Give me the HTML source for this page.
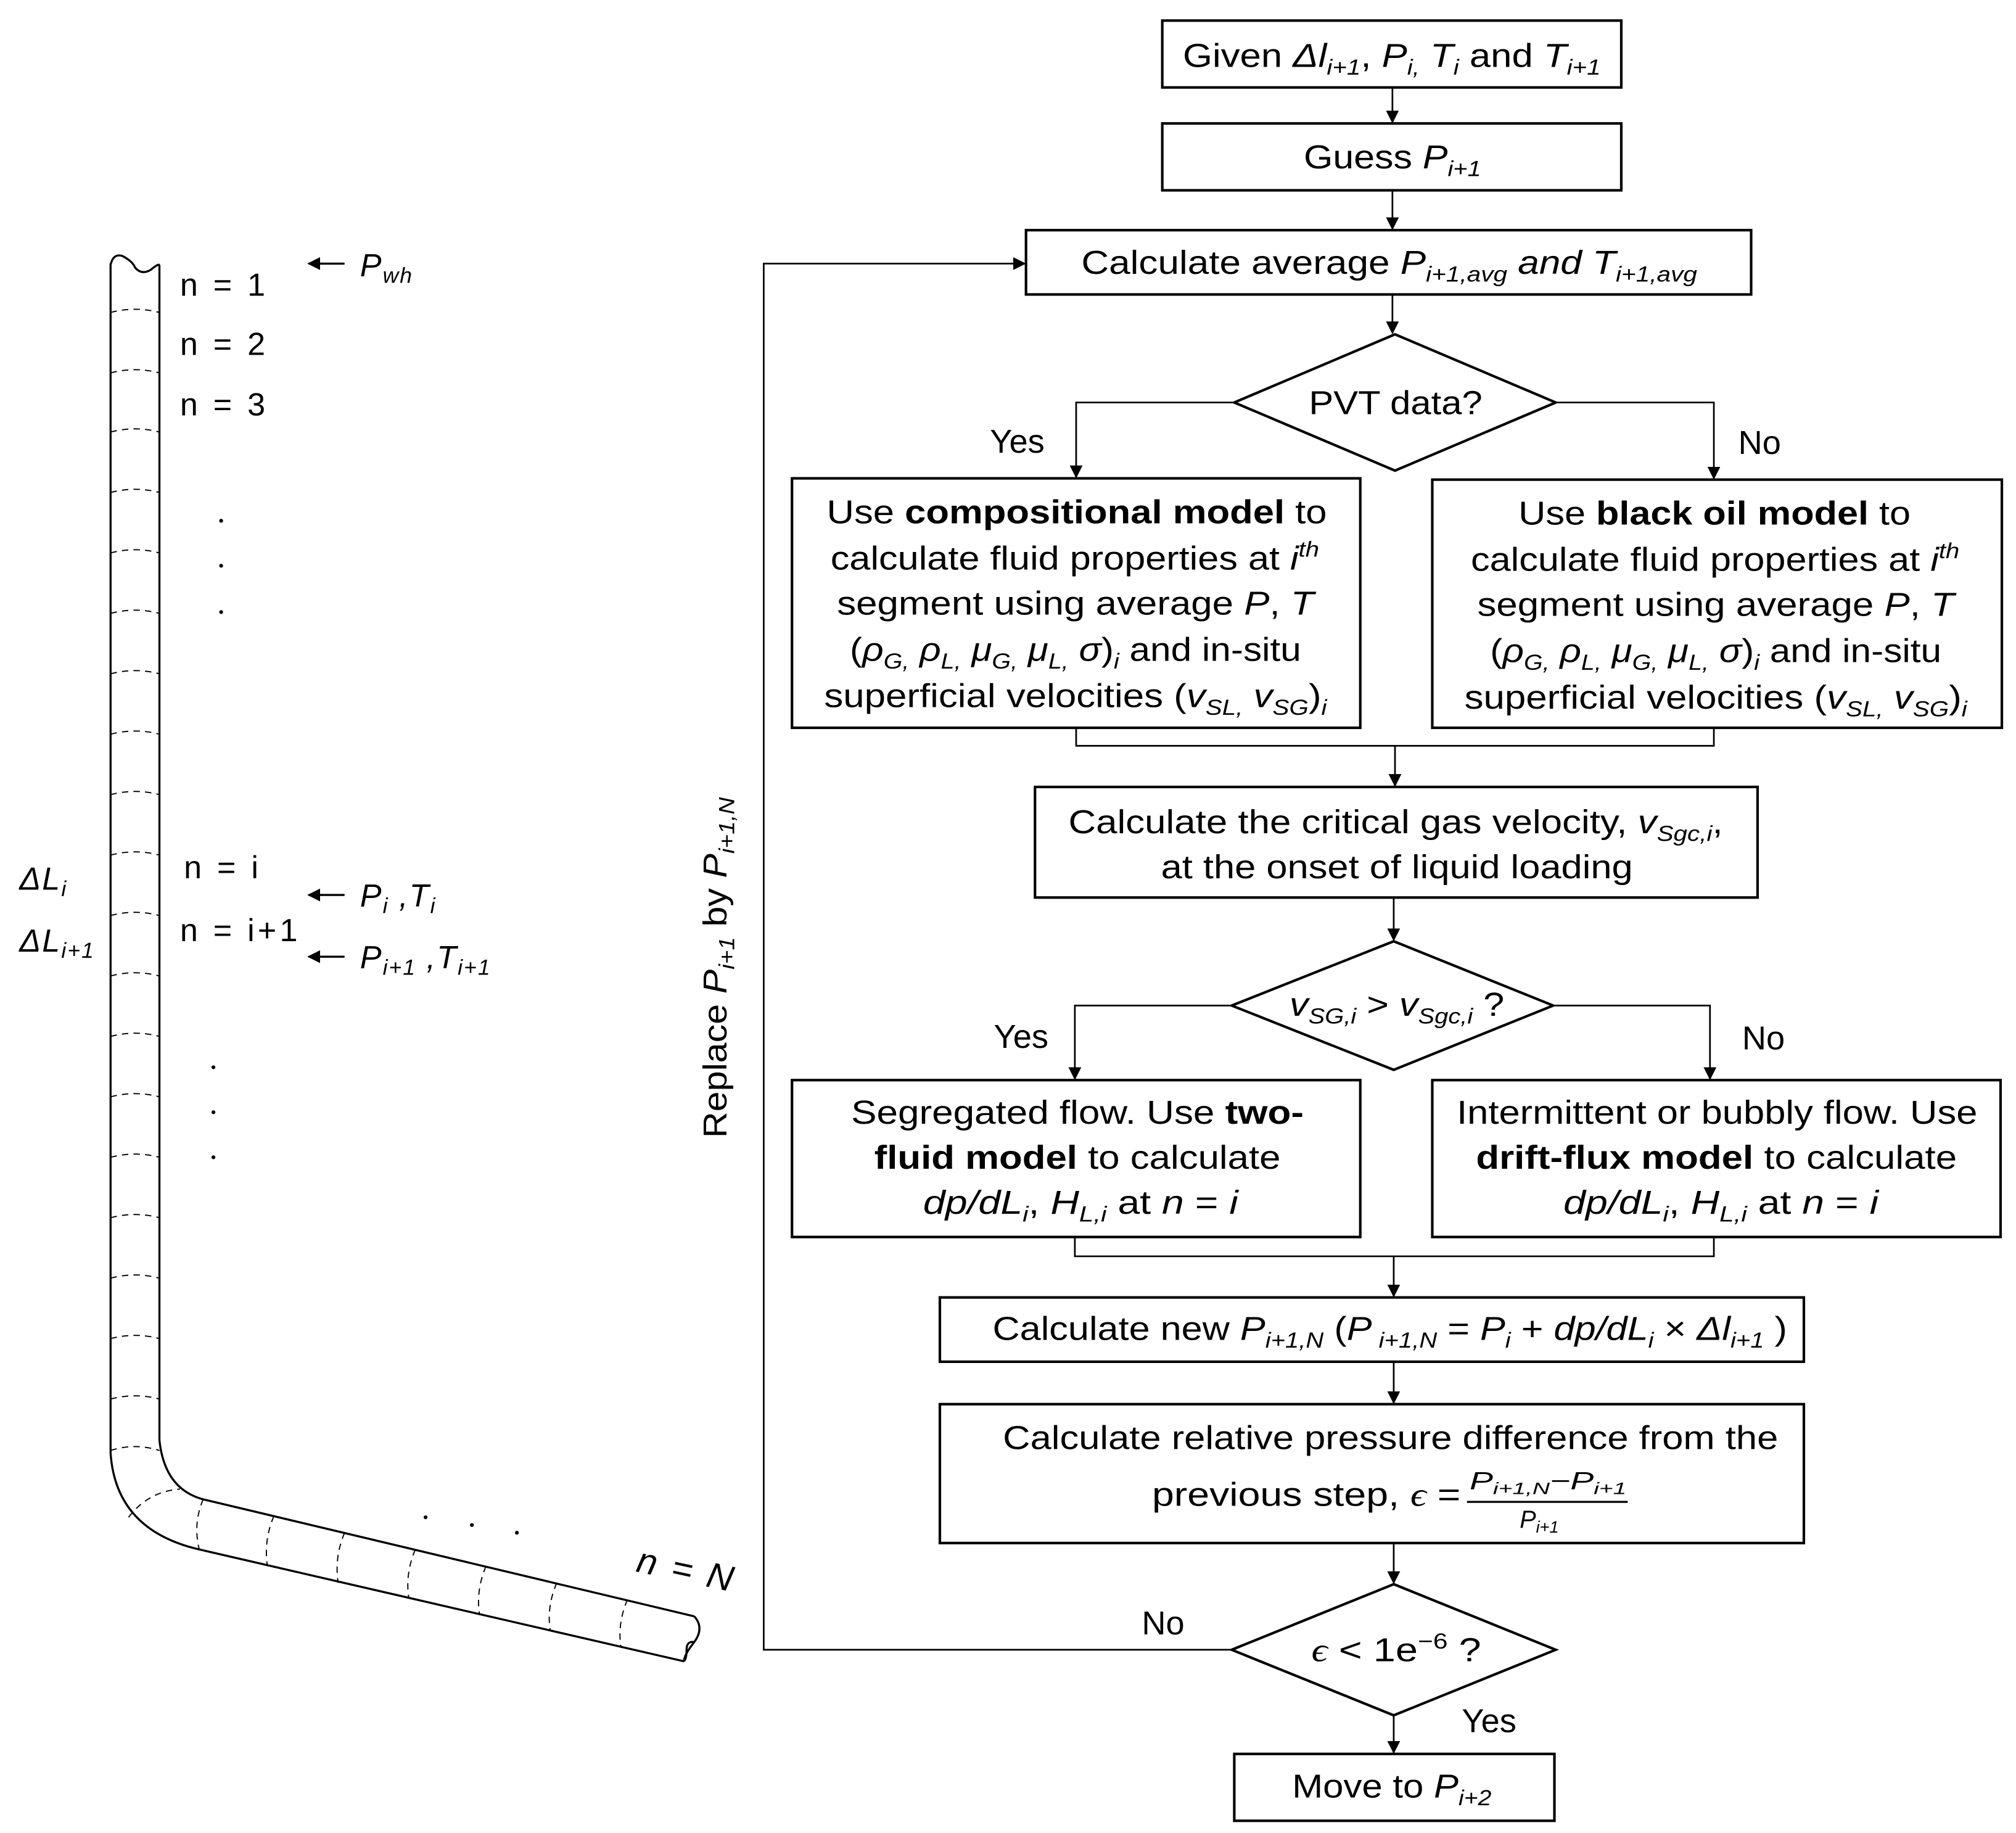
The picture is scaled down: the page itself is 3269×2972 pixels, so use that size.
<!DOCTYPE html>
<html><head><meta charset="utf-8"><style>
html,body{margin:0;padding:0;background:#fff}
svg{display:block}
text{font-family:"Liberation Sans",Arial,sans-serif;fill:#000}
.t{font-size:26px}
.s{font-size:17px}
</style></head><body>
<svg width="3269" height="2972" viewBox="0 0 1568 1425.5" preserveAspectRatio="none" xmlns="http://www.w3.org/2000/svg">
<defs><marker id="a" markerWidth="10" markerHeight="10" refX="9" refY="5" orient="auto" markerUnits="userSpaceOnUse"><path d="M0,0 L10,5 L0,10 z" fill="#000"/></marker></defs>
<g fill="none" stroke="#000" stroke-width="2">
<rect x="904" y="16" width="357" height="52"/>
<rect x="904" y="96" width="357" height="52"/>
<rect x="798" y="179" width="564" height="50"/>
<polygon points="1085,260 1210,313 1085,366 960,313"/>
<rect x="616" y="372" width="442" height="194"/>
<rect x="1114" y="373" width="443" height="193"/>
<rect x="805" y="612" width="562" height="86"/>
<polygon points="1084,732 1208,782 1084,832 958,782"/>
<rect x="616" y="840" width="442" height="122"/>
<rect x="1114" y="840" width="442" height="122"/>
<rect x="731" y="1009" width="672" height="50"/>
<rect x="731" y="1092" width="672" height="108"/>
<polygon points="1084,1232 1210,1283 1084,1334 958,1283"/>
<rect x="960" y="1364" width="249" height="52"/>
</g>
<g fill="none" stroke="#000" stroke-width="1.3">
<path d="M1083,68 V95" marker-end="url(#a)"/>
<path d="M1083,148 V178" marker-end="url(#a)"/>
<path d="M1083,229 V259" marker-end="url(#a)"/>
<path d="M960,313 H837 V371" marker-end="url(#a)"/>
<path d="M1210,313 H1333 V372" marker-end="url(#a)"/>
<path d="M837,566 V580 H1333 V566"/>
<path d="M1085,580 V611" marker-end="url(#a)"/>
<path d="M1084,698 V731" marker-end="url(#a)"/>
<path d="M958,782 H836 V839" marker-end="url(#a)"/>
<path d="M1208,782 H1330 V839" marker-end="url(#a)"/>
<path d="M836,962 V977 H1333 V962"/>
<path d="M1084,977 V1008" marker-end="url(#a)"/>
<path d="M1084,1059 V1091" marker-end="url(#a)"/>
<path d="M1084,1200 V1231" marker-end="url(#a)"/>
<path d="M958,1283 H594 V205 H797" marker-end="url(#a)"/>
<path d="M1084,1334 V1363" marker-end="url(#a)"/>
</g>
<text class="t" x="920" y="52" textLength="325" lengthAdjust="spacingAndGlyphs">Given <tspan font-style="italic">Δl</tspan><tspan class="s" font-style="italic" dy="6">i+1</tspan><tspan dy="-6">, </tspan><tspan font-style="italic">P</tspan><tspan class="s" font-style="italic" dy="6">i,</tspan><tspan font-style="italic" dy="-6"> T</tspan><tspan class="s" font-style="italic" dy="6">i</tspan><tspan dy="-6"> and </tspan><tspan font-style="italic">T</tspan><tspan class="s" font-style="italic" dy="6">i+1</tspan></text>
<text class="t" x="1014" y="131" textLength="138" lengthAdjust="spacingAndGlyphs">Guess <tspan font-style="italic">P</tspan><tspan class="s" font-style="italic" dy="6">i+1</tspan></text>
<text class="t" x="841" y="213" textLength="479" lengthAdjust="spacingAndGlyphs">Calculate average <tspan font-style="italic">P</tspan><tspan class="s" font-style="italic" dy="6">i+1,avg</tspan><tspan font-style="italic" dy="-6"> and T</tspan><tspan class="s" font-style="italic" dy="6">i+1,avg</tspan></text>
<text class="t" x="1018" y="322" textLength="135" lengthAdjust="spacingAndGlyphs">PVT data?</text>
<text class="t" x="770" y="352">Yes</text>
<text class="t" x="1352" y="353">No</text>
<text class="t" x="643" y="407" textLength="389" lengthAdjust="spacingAndGlyphs">Use <tspan font-weight="bold">compositional model</tspan> to</text>
<text class="t" x="646" y="443" textLength="380" lengthAdjust="spacingAndGlyphs">calculate fluid properties at <tspan font-style="italic">i</tspan><tspan class="s" font-style="italic" dy="-10">th</tspan></text>
<text class="t" x="651" y="478" textLength="371" lengthAdjust="spacingAndGlyphs">segment using average <tspan font-style="italic">P</tspan>, <tspan font-style="italic">T</tspan></text>
<text class="t" x="661" y="514" textLength="351" lengthAdjust="spacingAndGlyphs">(<tspan font-style="italic">ρ</tspan><tspan class="s" font-style="italic" dy="6">G,</tspan><tspan font-style="italic" dy="-6"> ρ</tspan><tspan class="s" font-style="italic" dy="6">L,</tspan><tspan font-style="italic" dy="-6"> μ</tspan><tspan class="s" font-style="italic" dy="6">G,</tspan><tspan font-style="italic" dy="-6"> μ</tspan><tspan class="s" font-style="italic" dy="6">L,</tspan><tspan font-style="italic" dy="-6"> σ</tspan>)<tspan class="s" font-style="italic" dy="6">i</tspan><tspan dy="-6"> and in-situ</tspan></text>
<text class="t" x="641" y="550" textLength="391" lengthAdjust="spacingAndGlyphs">superficial velocities (<tspan font-style="italic">v</tspan><tspan class="s" font-style="italic" dy="6">SL,</tspan><tspan font-style="italic" dy="-6"> v</tspan><tspan class="s" font-style="italic" dy="6">SG</tspan><tspan dy="-6">)</tspan><tspan class="s" font-style="italic" dy="6">i</tspan></text>
<text class="t" x="1181" y="408" textLength="305" lengthAdjust="spacingAndGlyphs">Use <tspan font-weight="bold">black oil model</tspan> to</text>
<text class="t" x="1144" y="444" textLength="380" lengthAdjust="spacingAndGlyphs">calculate fluid properties at <tspan font-style="italic">i</tspan><tspan class="s" font-style="italic" dy="-10">th</tspan></text>
<text class="t" x="1149" y="479" textLength="371" lengthAdjust="spacingAndGlyphs">segment using average <tspan font-style="italic">P</tspan>, <tspan font-style="italic">T</tspan></text>
<text class="t" x="1159" y="515" textLength="351" lengthAdjust="spacingAndGlyphs">(<tspan font-style="italic">ρ</tspan><tspan class="s" font-style="italic" dy="6">G,</tspan><tspan font-style="italic" dy="-6"> ρ</tspan><tspan class="s" font-style="italic" dy="6">L,</tspan><tspan font-style="italic" dy="-6"> μ</tspan><tspan class="s" font-style="italic" dy="6">G,</tspan><tspan font-style="italic" dy="-6"> μ</tspan><tspan class="s" font-style="italic" dy="6">L,</tspan><tspan font-style="italic" dy="-6"> σ</tspan>)<tspan class="s" font-style="italic" dy="6">i</tspan><tspan dy="-6"> and in-situ</tspan></text>
<text class="t" x="1139" y="551" textLength="391" lengthAdjust="spacingAndGlyphs">superficial velocities (<tspan font-style="italic">v</tspan><tspan class="s" font-style="italic" dy="6">SL,</tspan><tspan font-style="italic" dy="-6"> v</tspan><tspan class="s" font-style="italic" dy="6">SG</tspan><tspan dy="-6">)</tspan><tspan class="s" font-style="italic" dy="6">i</tspan></text>
<text class="t" x="831" y="648" textLength="509" lengthAdjust="spacingAndGlyphs">Calculate the critical gas velocity,  <tspan font-style="italic">v</tspan><tspan class="s" font-style="italic" dy="6">Sgc,i</tspan><tspan dy="-6">,</tspan></text>
<text class="t" x="903" y="683" textLength="367" lengthAdjust="spacingAndGlyphs">at the onset of liquid loading</text>
<text class="t" x="1003" y="790" textLength="167" lengthAdjust="spacingAndGlyphs"><tspan font-style="italic">v</tspan><tspan class="s" font-style="italic" dy="6">SG,i</tspan><tspan dy="-6"> &gt; </tspan><tspan font-style="italic">v</tspan><tspan class="s" font-style="italic" dy="6">Sgc,i</tspan><tspan dy="-6"> ?</tspan></text>
<text class="t" x="773" y="815">Yes</text>
<text class="t" x="1355" y="816">No</text>
<text class="t" x="662" y="874" textLength="352" lengthAdjust="spacingAndGlyphs">Segregated flow. Use <tspan font-weight="bold">two-</tspan></text>
<text class="t" x="680" y="909" textLength="316" lengthAdjust="spacingAndGlyphs"><tspan font-weight="bold">fluid model</tspan> to calculate</text>
<text class="t" x="718" y="944" textLength="245" lengthAdjust="spacingAndGlyphs"><tspan font-style="italic">dp/dL</tspan><tspan class="s" font-style="italic" dy="6">i</tspan><tspan dy="-6">, </tspan><tspan font-style="italic">H</tspan><tspan class="s" font-style="italic" dy="6">L,i</tspan><tspan dy="-6"> at </tspan><tspan font-style="italic">n</tspan> = <tspan font-style="italic">i</tspan></text>
<text class="t" x="1133" y="874" textLength="405" lengthAdjust="spacingAndGlyphs">Intermittent or bubbly flow. Use</text>
<text class="t" x="1148" y="909" textLength="374" lengthAdjust="spacingAndGlyphs"><tspan font-weight="bold">drift-flux model</tspan> to calculate</text>
<text class="t" x="1216" y="944" textLength="245" lengthAdjust="spacingAndGlyphs"><tspan font-style="italic">dp/dL</tspan><tspan class="s" font-style="italic" dy="6">i</tspan><tspan dy="-6">, </tspan><tspan font-style="italic">H</tspan><tspan class="s" font-style="italic" dy="6">L,i</tspan><tspan dy="-6"> at </tspan><tspan font-style="italic">n</tspan> = <tspan font-style="italic">i</tspan></text>
<text class="t" x="772" y="1042" textLength="618" lengthAdjust="spacingAndGlyphs">Calculate new <tspan font-style="italic">P</tspan><tspan class="s" font-style="italic" dy="6">i+1,N</tspan><tspan dy="-6"> (</tspan><tspan font-style="italic">P</tspan><tspan class="s" font-style="italic" dy="6"> i+1,N</tspan><tspan dy="-6"> = </tspan><tspan font-style="italic">P</tspan><tspan class="s" font-style="italic" dy="6">i</tspan><tspan dy="-6"> + </tspan><tspan font-style="italic">dp/dL</tspan><tspan class="s" font-style="italic" dy="6">i</tspan><tspan dy="-6"> × </tspan><tspan font-style="italic">Δl</tspan><tspan class="s" font-style="italic" dy="6">i+1</tspan><tspan dy="-6"> )</tspan></text>
<text class="t" x="780" y="1127" textLength="603" lengthAdjust="spacingAndGlyphs">Calculate relative pressure difference from the</text>
<text class="t" x="896" y="1171" textLength="240" lengthAdjust="spacingAndGlyphs">previous step, <tspan font-style="italic" font-family="Liberation Serif">ϵ</tspan> =</text>
<line x1="1141" y1="1168" x2="1266" y2="1168" stroke="#000" stroke-width="1.6"/>
<text x="1143" y="1158" font-family="Liberation Serif" font-size="19" font-style="italic" textLength="122" lengthAdjust="spacingAndGlyphs">P<tspan font-size="13" dy="4">i+1,N</tspan><tspan dy="-4">−P</tspan><tspan font-size="13" dy="4">i+1</tspan></text>
<text x="1182" y="1188" font-family="Liberation Serif" font-size="19" font-style="italic">P<tspan font-size="13" dy="4">i+1</tspan></text>
<text class="t" x="1020" y="1292" textLength="132" lengthAdjust="spacingAndGlyphs"><tspan font-family="Liberation Serif" font-style="italic">ϵ</tspan> &lt; 1e<tspan class="s" dy="-10">−6</tspan><tspan dy="10"> ?</tspan></text>
<text class="t" x="888" y="1271">No</text>
<text class="t" x="1137" y="1347">Yes</text>
<text class="t" x="1005" y="1398" textLength="155" lengthAdjust="spacingAndGlyphs">Move to <tspan font-style="italic">P</tspan><tspan class="s" font-style="italic" dy="6">i+2</tspan></text>
<text class="t" transform="translate(565,885) rotate(-90)" textLength="265" lengthAdjust="spacingAndGlyphs">Replace <tspan font-style="italic">P</tspan><tspan class="s" font-style="italic" dy="6">i+1</tspan><tspan dy="-6"> by </tspan><tspan font-style="italic">P</tspan><tspan class="s" font-style="italic" dy="6">i+1,N</tspan></text>
<g fill="none" stroke="#000" stroke-width="1.6">
<path d="M86,205 V1130 Q90,1190 155,1205 L532,1292"/>
<path d="M124,206 V1120 Q128,1158 158,1166 L540,1257"/>
<path d="M86,206 Q88,197 95,199 Q103,203 105,208 Q110,214 117,210 Q123,205 124,206"/>
<path d="M540,1257 Q548,1266 540,1277 Q532,1287 532,1292 M540,1277 Q534,1276 534,1283 Q534,1290 532,1292"/>
</g>
<g fill="none" stroke="#000" stroke-width="0.9" stroke-dasharray="5,4">
<path d="M86,243 Q105,238 124,243 M86,290 Q105,285 124,290 M86,336 Q105,331 124,336 M86,383 Q105,378 124,383 M86,430 Q105,425 124,430 M86,477 Q105,472 124,477 M86,524 Q105,519 124,524 M86,571 Q105,566 124,571 M86,618 Q105,613 124,618 M86,665 Q105,660 124,665 M86,712 Q105,707 124,712 M86,759 Q105,754 124,759 M86,806 Q105,801 124,806 M86,853 Q105,848 124,853 M86,900 Q105,895 124,900 M86,947 Q105,942 124,947 M86,994 Q105,989 124,994 M86,1041 Q105,1036 124,1041 M86,1088 Q105,1083 124,1088 M86,1128 Q105,1122 124,1128"/>
<path d="M100,1180 Q115,1160 140,1158"/>
<path d="M158,1166 Q150,1185 155,1205 M213,1179 Q205,1198 208,1218 M268,1192 Q260,1211 263,1231 M323,1205 Q315,1224 318,1243 M378,1218 Q370,1237 373,1256 M433,1231 Q425,1250 428,1268 M488,1244 Q480,1263 483,1281"/>
</g>
<g font-size="25">
<text x="140" y="230" letter-spacing="2.5">n = 1</text>
<text x="140" y="276" letter-spacing="2.5">n = 2</text>
<text x="140" y="323" letter-spacing="2.5">n = 3</text>
<text x="143" y="683" letter-spacing="2.5">n = i</text>
<text x="140" y="732" letter-spacing="2.5">n = i+1</text>
<text x="15" y="692" font-style="italic" letter-spacing="1">ΔL<tspan font-size="17" dy="5">i</tspan></text>
<text x="15" y="740" font-style="italic" letter-spacing="1">ΔL<tspan font-size="17" dy="5">i+1</tspan></text>
<text x="280" y="215" font-style="italic" letter-spacing="1">P<tspan font-size="17" dy="5">wh</tspan></text>
<text x="280" y="705" font-style="italic" letter-spacing="1">P<tspan font-size="17" dy="5">i</tspan><tspan dy="-5"> ,T</tspan><tspan font-size="17" dy="5">i</tspan></text>
<text x="280" y="753" font-style="italic" letter-spacing="1">P<tspan font-size="17" dy="5">i+1</tspan><tspan dy="-5"> ,T</tspan><tspan font-size="17" dy="5">i+1</tspan></text>
<text transform="translate(494,1222) rotate(12)" font-style="italic" font-size="28" letter-spacing="2">n = N</text>
</g>
<g fill="none" stroke="#000" stroke-width="1.6">
<path d="M268,205 H240" marker-end="url(#a)"/>
<path d="M268,696 H240" marker-end="url(#a)"/>
<path d="M268,744 H240" marker-end="url(#a)"/>
</g>
<g fill="#000">
<circle cx="172" cy="405" r="1.5"/><circle cx="172" cy="440" r="1.5"/><circle cx="172" cy="476" r="1.5"/>
<circle cx="166" cy="830" r="1.5"/><circle cx="166" cy="865" r="1.5"/><circle cx="166" cy="900" r="1.5"/>
<circle cx="331" cy="1180" r="1.5"/><circle cx="367" cy="1186" r="1.5"/><circle cx="402" cy="1192" r="1.5"/>
</g>
</svg>
</body></html>
